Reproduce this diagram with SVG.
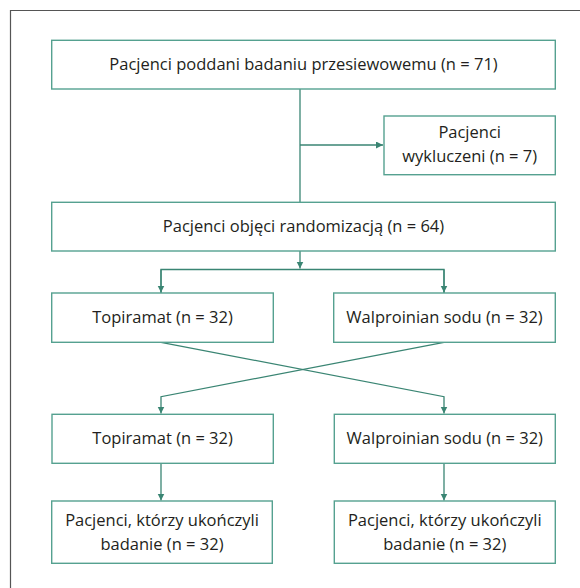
<svg xmlns="http://www.w3.org/2000/svg" width="580" height="588" viewBox="0 0 580 588">
<style>
.box{fill:#fff;stroke:#55a190;stroke-width:1.4}
.ln{fill:none;stroke:#3a8573;stroke-width:1.3}
.t{font-family:"Open Sans","Noto Sans",sans-serif;font-size:16.5px;fill:#231f20;text-anchor:middle}
</style>
<defs>
<marker id="ah" markerUnits="userSpaceOnUse" markerWidth="8" markerHeight="8" refX="7" refY="3.5" orient="auto">
<path d="M0,0 L7,3.5 L0,7 z" fill="#3a8573"/>
</marker>
</defs>
<rect width="580" height="588" fill="#fff"/>
<path d="M10.5,588 V10.5 H580" fill="none" stroke="#555" stroke-width="1.2"/>
<g id="connectors">
<path class="ln" d="M300,89 V202"/>
<path class="ln" d="M300,145 H383" marker-end="url(#ah)"/>
<path class="ln" d="M300,251 V268.5" marker-end="url(#ah)"/>
<path class="ln" d="M161,293 V269.5 H444 V293" />
<path class="ln" d="M161,269.5 V292.5" marker-end="url(#ah)"/>
<path class="ln" d="M444,269.5 V292.5" marker-end="url(#ah)"/>
<path class="ln" d="M161,342.3 L444,396.7 V413.5" marker-end="url(#ah)"/>
<path class="ln" d="M444,342.3 L161,396.7 V413.5" marker-end="url(#ah)"/>
<path class="ln" d="M161,463.3 V500.5" marker-end="url(#ah)"/>
<path class="ln" d="M444,463.3 V500.5" marker-end="url(#ah)"/>
</g>
<g id="n1"><rect class="box" x="51.7" y="40.3" width="503.6" height="48.7"/><text class="t" x="303.5" y="70">Pacjenci poddani badaniu przesiewowemu (n = 71)</text></g>
<g id="n2"><rect class="box" x="384" y="116" width="171.3" height="58.7"/><text class="t" x="469.7" y="138">Pacjenci</text><text class="t" x="469.7" y="162">wykluczeni (n = 7)</text></g>
<g id="n3"><rect class="box" x="51.7" y="202.3" width="503.6" height="48.7"/><text class="t" x="303.5" y="231.5">Pacjenci objęci randomizacją (n = 64)</text></g>
<g id="n4"><rect class="box" x="51.7" y="293" width="221.6" height="49.3"/><text class="t" x="162.5" y="323">Topiramat (n = 32)</text></g>
<g id="n5"><rect class="box" x="333.7" y="293" width="221.6" height="49.3"/><text class="t" x="444.5" y="323">Walproinian sodu (n = 32)</text></g>
<g id="n6"><rect class="box" x="52" y="414.3" width="221.3" height="49"/><text class="t" x="162.6" y="444">Topiramat (n = 32)</text></g>
<g id="n7"><rect class="box" x="334.3" y="414.3" width="221" height="49"/><text class="t" x="444.8" y="444">Walproinian sodu (n = 32)</text></g>
<g id="n8"><rect class="box" x="51.7" y="501" width="220.6" height="62.3"/><text class="t" x="162" y="526">Pacjenci, którzy ukończyli</text><text class="t" x="162" y="549.5">badanie (n = 32)</text></g>
<g id="n9"><rect class="box" x="334.3" y="501" width="221" height="62.3"/><text class="t" x="444.8" y="526">Pacjenci, którzy ukończyli</text><text class="t" x="444.8" y="549.5">badanie (n = 32)</text></g>
</svg>
